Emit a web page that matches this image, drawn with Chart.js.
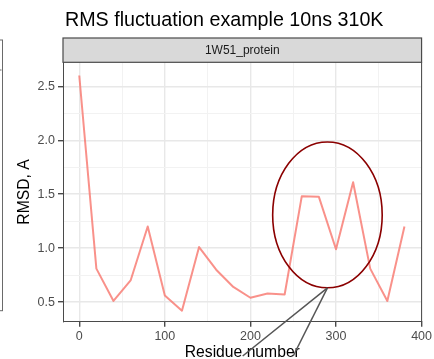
<!DOCTYPE html>
<html>
<head>
<meta charset="utf-8">
<script src="https://cdn.jsdelivr.net/npm/chart.js@4/dist/chart.umd.min.js"></script>
<style>
  html, body { margin: 0; padding: 0; background: #ffffff; }
  #c { display: block; }
</style>
</head>
<body>
<canvas id="c" width="434" height="359"></canvas>
<script>
// Per-residue RMS fluctuation, sampled every 20 residues
const residues = [0, 20, 40, 60, 80, 100, 120, 140, 160, 180, 200, 220, 240, 260, 280, 300, 320, 340, 360, 380];
const rmsd = [2.60, 0.81, 0.51, 0.70, 1.20, 0.56, 0.42, 1.01, 0.80, 0.64, 0.54, 0.58, 0.57, 1.48, 1.475, 0.99, 1.61, 0.81, 0.51, 1.20];

// Axis ticks (major are labelled, minor only get a light grid line)
const xMajor = [0, 100, 200, 300, 400];
const xMinor = [50, 150, 250, 350];
const yMajor = [0.5, 1.0, 1.5, 2.0, 2.5];
const yMinor = [0.75, 1.25, 1.75, 2.25];
const xRange = [-19, 400];
const yRange = [0.318, 2.722];

// Texts
const titleText = 'RMS fluctuation example 10ns 310K';
const panelLabel = '1W51_protein';
const xTitle = 'Residue number';
const yTitle = 'RMSD, A';

// Highlight of the flexible region (data units) and its pointer segments
const highlightCenter = [290, 1.308];
const highlightRadius = [64, 0.676];
const pointerFrom = [290, 0.632];
const pointerEnds = [[191, 0], [250, 0]];

const FONT = '"Liberation Sans", Arial, Helvetica, sans-serif';
const GRID_MAJOR = '#E8E8E8';
const GRID_MINOR = '#F2F2F2';
const AXIS = '#4A4A4A';

const isMajor = (list, v) => list.some(m => Math.abs(m - v) < 1e-9);
const tickList = (maj, min) => [...maj, ...min].sort((a, b) => a - b).map(v => ({ value: v }));

const decorations = {
  id: 'decorations',
  afterDraw(chart) {
    const { ctx, chartArea: a, scales: { x, y } } = chart;
    ctx.save();

    // Title
    ctx.fillStyle = '#000000';
    ctx.font = '19.7px ' + FONT;
    ctx.textAlign = 'left';
    ctx.textBaseline = 'alphabetic';
    ctx.fillText(titleText, a.left + 2, 26);

    // Facet strip
    const stripTop = 38;
    ctx.fillStyle = '#D9D9D9';
    ctx.fillRect(a.left, stripTop, a.right - a.left, a.top - stripTop);
    ctx.strokeStyle = AXIS;
    ctx.lineWidth = 1.2;
    ctx.strokeRect(a.left, stripTop, a.right - a.left, a.top - stripTop);
    ctx.fillStyle = '#1A1A1A';
    ctx.font = '12px ' + FONT;
    ctx.textAlign = 'center';
    ctx.textBaseline = 'middle';
    ctx.fillText(panelLabel, (a.left + a.right) / 2, (stripTop + a.top) / 2 + 0.5);

    // Right panel edge
    ctx.strokeStyle = AXIS;
    ctx.lineWidth = 1;
    ctx.beginPath();
    ctx.moveTo(a.right, a.top);
    ctx.lineTo(a.right, a.bottom);
    ctx.stroke();

    // Neighbouring panel edge at the far left
    ctx.strokeStyle = '#6A6A6A';
    ctx.lineWidth = 1;
    ctx.strokeRect(-10, 40, 12.5, 270.7);
    ctx.beginPath();
    ctx.moveTo(0, 70);
    ctx.lineTo(1.5, 70);
    ctx.stroke();

    // Ellipse around the flexible region
    const cx = x.getPixelForValue(highlightCenter[0]);
    const cy = y.getPixelForValue(highlightCenter[1]);
    const rx = Math.abs(x.getPixelForValue(highlightCenter[0] + highlightRadius[0]) - cx);
    const ry = Math.abs(y.getPixelForValue(highlightCenter[1] + highlightRadius[1]) - cy);
    ctx.strokeStyle = '#8B0000';
    ctx.lineWidth = 1.6;
    ctx.beginPath();
    ctx.ellipse(cx, cy, rx, ry, 0, 0, Math.PI * 2);
    ctx.stroke();

    // Pointer segments
    ctx.strokeStyle = '#555555';
    ctx.lineWidth = 1.5;
    const fx = x.getPixelForValue(pointerFrom[0]);
    const fy = y.getPixelForValue(pointerFrom[1]);
    pointerEnds.forEach(([ex, ey]) => {
      ctx.beginPath();
      ctx.moveTo(fx, fy);
      ctx.lineTo(x.getPixelForValue(ex), y.getPixelForValue(ey));
      ctx.stroke();
    });

    ctx.restore();
  }
};

new Chart(document.getElementById('c'), {
  type: 'line',
  data: {
    datasets: [{
      data: residues.map((r, i) => ({ x: r, y: rmsd[i] })),
      borderColor: 'rgba(248, 118, 109, 0.8)',
      borderWidth: 2,
      borderJoinStyle: 'round',
      pointRadius: 0,
      tension: 0,
      fill: false
    }]
  },
  options: {
    responsive: false,
    animation: false,
    devicePixelRatio: 1,
    layout: { padding: { top: 62.3, right: 10, bottom: 0, left: 0 } },
    plugins: { legend: { display: false }, tooltip: { enabled: false } },
    scales: {
      x: {
        type: 'linear',
        min: xRange[0],
        max: xRange[1],
        afterBuildTicks: s => { s.ticks = tickList(xMajor, xMinor); },
        afterFit: s => { s.height = 37.3; },
        ticks: {
          callback: v => isMajor(xMajor, v) ? String(v) : '',
          color: '#4D4D4D',
          font: { family: FONT, size: 12.5 },
          padding: 2,
          maxRotation: 0,
          autoSkip: false
        },
        grid: {
          color: c => isMajor(xMajor, c.tick.value) ? GRID_MAJOR : GRID_MINOR,
          lineWidth: c => isMajor(xMajor, c.tick.value) ? 1.4 : 1,
          tickColor: c => isMajor(xMajor, c.tick.value) ? AXIS : 'rgba(0,0,0,0)',
          tickLength: 5
        },
        border: { color: AXIS, width: 1 },
        title: {
          display: true,
          text: xTitle,
          color: '#000000',
          font: { family: FONT, size: 15.7, lineHeight: 0.82 },
          padding: 0
        }
      },
      y: {
        type: 'linear',
        min: yRange[0],
        max: yRange[1],
        afterBuildTicks: s => { s.ticks = tickList(yMajor, yMinor); },
        afterFit: s => { s.width = 63; },
        ticks: {
          callback: v => isMajor(yMajor, v) ? v.toFixed(1) : '',
          color: '#4D4D4D',
          font: { family: FONT, size: 12.5 },
          padding: 3,
          autoSkip: false
        },
        grid: {
          color: c => isMajor(yMajor, c.tick.value) ? GRID_MAJOR : GRID_MINOR,
          lineWidth: c => isMajor(yMajor, c.tick.value) ? 1.4 : 1,
          tickColor: c => isMajor(yMajor, c.tick.value) ? AXIS : 'rgba(0,0,0,0)',
          tickLength: 5
        },
        border: { color: AXIS, width: 1 },
        title: {
          display: true,
          text: yTitle,
          color: '#000000',
          font: { family: FONT, size: 15.7 },
          padding: { top: 15.7, bottom: 0 }
        }
      }
    }
  },
  plugins: [decorations]
});
</script>
</body>
</html>
